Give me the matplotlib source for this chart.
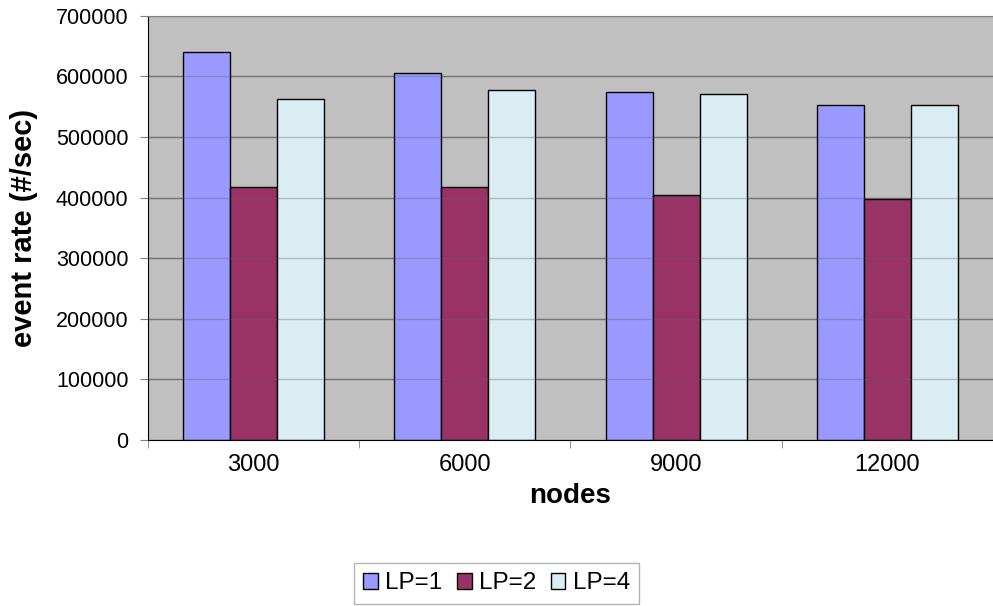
import numpy as np
import matplotlib.pyplot as plt

plt.rcParams['font.family'] = ['Liberation Sans', 'DejaVu Sans']

# taxa de eventos por número de nós, para cada quantidade de LPs
nodes = ['3000', '6000', '9000', '12000']
lp1 = [641000, 605000, 575000, 553500]
lp2 = [417000, 418000, 405000, 397500]
lp4 = [562500, 577000, 571500, 552000]
series = ['LP=1', 'LP=2', 'LP=4']
cores = ['#9999FF', '#993366', '#DAEDF3']

fig = plt.figure(figsize=(9.93, 6.06), dpi=100)
ax = fig.add_axes([0.149, 0.274, 0.851, 0.7])
ax.set_facecolor('#C0C0C0')

x = np.arange(len(nodes))
w = 2 / 9
for i, (vals, nome, cor) in enumerate(zip([lp1, lp2, lp4], series, cores)):
    ax.bar(x + (i - 1) * w, vals, width=w, color=cor, edgecolor='black',
           linewidth=1, label=nome, zorder=2)

# linhas de grade atrás e por cima das barras
ax.set_ylim(0, 700000)
ax.set_yticks(np.arange(0, 700001, 100000))
ax.yaxis.grid(True, color='#808080', linewidth=1, zorder=1)
ax.set_axisbelow(True)
for y in np.arange(100000, 700000, 100000):
    ax.axhline(y, color='#606060', linewidth=1, alpha=0.35, zorder=3)

ax.set_xlim(-0.5, len(nodes) - 0.5)
ax.set_xticks(x)
ax.set_xticklabels(nodes)
ax.set_xticks(np.arange(-0.5, len(nodes), 1), minor=True)
ax.tick_params(axis='x', which='major', length=0, pad=10, labelsize=17)
ax.tick_params(axis='x', which='minor', length=6, color='#808080')
ax.tick_params(axis='y', length=6, color='#808080', labelsize=15.5, pad=8)

ax.spines['left'].set_color('black')
ax.spines['bottom'].set_color('black')
ax.spines['top'].set_color('#808080')
ax.spines['right'].set_visible(False)

ax.set_xlabel('nodes', fontsize=20, fontweight='bold', labelpad=5)
ax.set_ylabel('event rate (#/sec)', fontsize=21, fontweight='bold', labelpad=13)

leg = fig.legend(loc='lower center', bbox_to_anchor=(0.5, 0.003), ncol=3,
                 fontsize=17.5, frameon=True, fancybox=False,
                 handlelength=0.6, handleheight=0.6, handletextpad=0.3,
                 columnspacing=0.6, borderpad=0.4, borderaxespad=0.0)
leg.get_frame().set_edgecolor('#A0A0A0')
leg.get_frame().set_linewidth(1)

fig.savefig('out.png', dpi=100)
